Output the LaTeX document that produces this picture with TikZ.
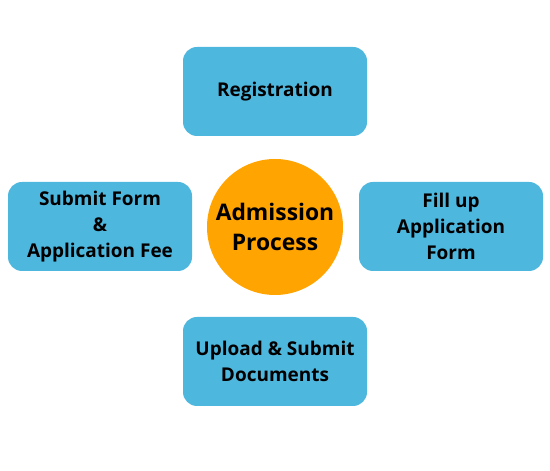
\documentclass[tikz,border=0pt]{standalone}
\usepackage{fontspec}
\setmainfont{Open Sans}
\usepackage{xcolor}
\definecolor{stageblue}{RGB}{78,183,222}
\definecolor{huborange}{RGB}{255,164,0}

\tikzset{
    stagebox/.style={draw=none, fill=stageblue, rounded corners=0.28cm,
        minimum width=3.68cm, minimum height=1.78cm, align=center,
        font=\fontsize{10.8}{14.8}\selectfont\bfseries},
    hubcircle/.style={circle, draw=none, fill=huborange, minimum size=2.72cm,
        inner sep=0pt, align=center, font=\fontsize{13}{17}\selectfont\bfseries}
}

\begin{document}
\begin{tikzpicture}

    % canvas (550 x 471 px)
    \useasboundingbox (0,0) rectangle (11,9.42);

    % Centre
    \node[hubcircle] (hub) at (5.5, 4.88) {Admission\\Process};

    % Stages
    \node[stagebox] (registration) at (5.5, 7.59) {Registration};
    \node[stagebox] (fillform) at (9.02, 4.89) {Fill up\\Application\\Form};
    \node[stagebox] (upload) at (5.5, 2.19) {Upload \& Submit\\Documents};
    \node[stagebox] (submitfee) at (2.0, 4.89) {Submit Form\\\&\\Application Fee};

\end{tikzpicture}
\end{document}
